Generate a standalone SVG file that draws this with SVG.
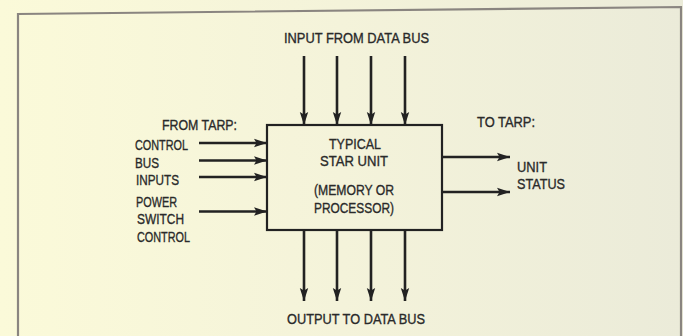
<svg xmlns="http://www.w3.org/2000/svg" width="683" height="336" viewBox="0 0 683 336">
  <defs>
    <linearGradient id="bg" x1="0" y1="0" x2="1" y2="0">
      <stop offset="0" stop-color="#fbfad9"/>
      <stop offset="0.5" stop-color="#f4f3da"/>
      <stop offset="1" stop-color="#ebebd9"/>
    </linearGradient>
    <marker id="ah" markerUnits="userSpaceOnUse" markerWidth="14" markerHeight="10" refX="13" refY="5" orient="auto">
      <path d="M0,0.8 L13,5 L0,9.2 L2.5,5 z" fill="#222"/>
    </marker>
    <style>
      .t { font-family: "Liberation Sans", Arial, sans-serif; font-size: 15px; fill: #2a2a2a; stroke: #2a2a2a; stroke-width: 0.35; }
      .c { stroke: #222; stroke-width: 2.6; fill: none; marker-end: url(#ah); }
      .box { stroke: #222; stroke-width: 2.2; fill: none; }
      .frame { stroke: #8a8580; stroke-width: 2.2; fill: none; }
    </style>
  </defs>
  <rect width="683" height="336" fill="url(#bg)"/>
  <path class="frame" d="M18,336 V14 L681,7 V336"/>

  <g id="unit">
    <rect class="box" x="267" y="125" width="175" height="105"/>
    <text class="t" x="329" y="149" textLength="52" lengthAdjust="spacingAndGlyphs">TYPICAL</text>
    <text class="t" x="320" y="166" textLength="68" lengthAdjust="spacingAndGlyphs">STAR UNIT</text>
    <text class="t" x="314" y="195" textLength="80" lengthAdjust="spacingAndGlyphs">(MEMORY OR</text>
    <text class="t" x="314" y="213" textLength="80" lengthAdjust="spacingAndGlyphs">PROCESSOR)</text>
  </g>

  <g id="input-data-bus">
    <text class="t" x="284" y="43" textLength="145" lengthAdjust="spacingAndGlyphs">INPUT FROM DATA BUS</text>
  </g>

  <g id="output-data-bus">
    <text class="t" x="287" y="324" textLength="138" lengthAdjust="spacingAndGlyphs">OUTPUT TO DATA BUS</text>
  </g>

  <g id="from-tarp">
    <text class="t" x="162" y="130" textLength="75" lengthAdjust="spacingAndGlyphs">FROM TARP:</text>
    <text class="t" x="135" y="150" textLength="53" lengthAdjust="spacingAndGlyphs">CONTROL</text>
    <text class="t" x="135" y="168" textLength="24" lengthAdjust="spacingAndGlyphs">BUS</text>
    <text class="t" x="136" y="185" textLength="43" lengthAdjust="spacingAndGlyphs">INPUTS</text>
    <text class="t" x="136" y="207" textLength="41" lengthAdjust="spacingAndGlyphs">POWER</text>
    <text class="t" x="137" y="224" textLength="47" lengthAdjust="spacingAndGlyphs">SWITCH</text>
    <text class="t" x="137" y="242" textLength="53" lengthAdjust="spacingAndGlyphs">CONTROL</text>
  </g>

  <g id="to-tarp">
    <text class="t" x="477" y="127" textLength="58" lengthAdjust="spacingAndGlyphs">TO TARP:</text>
    <text class="t" x="517" y="172" textLength="30" lengthAdjust="spacingAndGlyphs">UNIT</text>
    <text class="t" x="517" y="189" textLength="48" lengthAdjust="spacingAndGlyphs">STATUS</text>
  </g>

  <g id="connectors">
    <line class="c" x1="304" y1="56" x2="304" y2="125"/>
    <line class="c" x1="337" y1="56" x2="337" y2="125"/>
    <line class="c" x1="371" y1="56" x2="371" y2="125"/>
    <line class="c" x1="405" y1="56" x2="405" y2="125"/>

    <line class="c" x1="304" y1="230" x2="304" y2="301"/>
    <line class="c" x1="337" y1="230" x2="337" y2="301"/>
    <line class="c" x1="371" y1="230" x2="371" y2="301"/>
    <line class="c" x1="405" y1="230" x2="405" y2="301"/>

    <line class="c" x1="199" y1="143" x2="267" y2="143"/>
    <line class="c" x1="199" y1="160.5" x2="267" y2="160.5"/>
    <line class="c" x1="199" y1="177" x2="267" y2="177"/>
    <line class="c" x1="199" y1="211.5" x2="267" y2="211.5"/>

    <line class="c" x1="442" y1="157" x2="510" y2="157"/>
    <line class="c" x1="442" y1="192" x2="510" y2="192"/>
  </g>
</svg>
